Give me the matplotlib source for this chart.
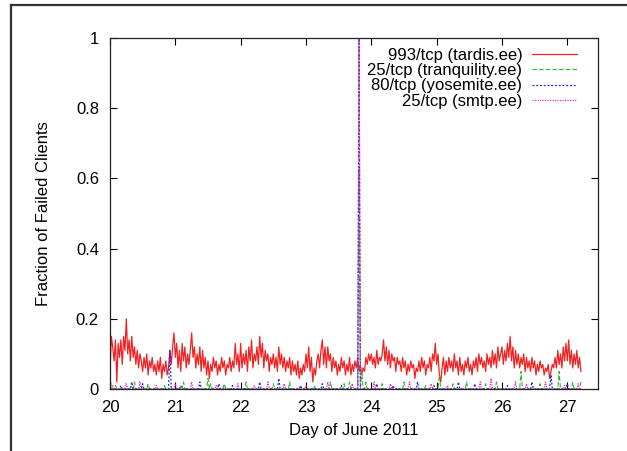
import numpy as np
import matplotlib
matplotlib.use("Agg")
import matplotlib.pyplot as plt
from matplotlib.lines import Line2D

plt.rcParams["font.family"] = ["Liberation Sans", "DejaVu Sans"]

# half-hourly samples starting 20 June 00:00
start_day = 20.0
samples_per_day = 48

# 993/tcp (tardis.ee)
tardis = [
    # 20 June
    0.05, 0.15, 0.12, 0.08, 0.14, 0.02, 0.13, 0.09, 0.14, 0.07, 0.15, 0.11,
    0.20, 0.10, 0.14, 0.08, 0.15, 0.09, 0.12, 0.07, 0.11, 0.06, 0.10, 0.08,
    0.05, 0.09, 0.06, 0.10, 0.04, 0.08, 0.06, 0.09, 0.05, 0.07, 0.04, 0.08,
    0.05, 0.09, 0.03, 0.07, 0.05, 0.08, 0.04, 0.06, 0.11, 0.07, 0.12, 0.16,
    # 21 June
    0.09, 0.13, 0.06, 0.11, 0.05, 0.13, 0.08, 0.12, 0.06, 0.10, 0.07, 0.11,
    0.16, 0.09, 0.12, 0.06, 0.10, 0.07, 0.12, 0.05, 0.11, 0.06, 0.09, 0.04,
    0.08, 0.03, 0.07, 0.05, 0.09, 0.06, 0.08, 0.04, 0.07, 0.05, 0.09, 0.06,
    0.08, 0.04, 0.07, 0.06, 0.09, 0.05, 0.08, 0.06, 0.13, 0.07, 0.10, 0.05,
    # 22 June
    0.13, 0.06, 0.10, 0.07, 0.11, 0.05, 0.12, 0.08, 0.14, 0.06, 0.10, 0.08,
    0.12, 0.07, 0.15, 0.09, 0.13, 0.06, 0.11, 0.08, 0.10, 0.05, 0.09, 0.07,
    0.10, 0.06, 0.09, 0.05, 0.12, 0.07, 0.10, 0.06, 0.09, 0.05, 0.08, 0.06,
    0.09, 0.04, 0.08, 0.05, 0.07, 0.04, 0.08, 0.03, 0.06, 0.04, 0.07, 0.05,
    # 23 June
    0.10, 0.06, 0.12, 0.05, 0.09, 0.02, 0.06, 0.04, 0.08, 0.10, 0.06, 0.11,
    0.14, 0.07, 0.12, 0.06, 0.12, 0.08, 0.10, 0.05, 0.09, 0.06, 0.08, 0.04,
    0.07, 0.05, 0.09, 0.06, 0.08, 0.04, 0.07, 0.05, 0.09, 0.04, 0.07, 0.05,
    0.08, 0.06, 0.09, 0.05, 0.07, 0.04, 0.06, 0.05, 0.09, 0.07, 0.10, 0.08,
    # 24 June
    0.10, 0.07, 0.09, 0.06, 0.11, 0.07, 0.09, 0.08, 0.10, 0.14, 0.08, 0.12,
    0.07, 0.11, 0.06, 0.10, 0.08, 0.09, 0.05, 0.09, 0.07, 0.08, 0.05, 0.09,
    0.06, 0.08, 0.04, 0.07, 0.05, 0.08, 0.06, 0.07, 0.03, 0.06, 0.05, 0.08,
    0.05, 0.09, 0.06, 0.08, 0.04, 0.07, 0.06, 0.09, 0.05, 0.10, 0.08, 0.13,
    # 25 June
    0.07, 0.10, 0.04, 0.02, 0.06, 0.09, 0.04, 0.08, 0.05, 0.09, 0.06, 0.08,
    0.05, 0.10, 0.06, 0.08, 0.04, 0.09, 0.05, 0.07, 0.04, 0.08, 0.06, 0.09,
    0.05, 0.07, 0.04, 0.08, 0.06, 0.09, 0.05, 0.10, 0.07, 0.09, 0.06, 0.08,
    0.05, 0.10, 0.07, 0.09, 0.06, 0.11, 0.07, 0.10, 0.06, 0.12, 0.08, 0.10,
    # 26 June
    0.12, 0.07, 0.11, 0.08, 0.13, 0.09, 0.15, 0.08, 0.12, 0.06, 0.11, 0.07,
    0.10, 0.06, 0.09, 0.07, 0.10, 0.05, 0.09, 0.06, 0.08, 0.05, 0.09, 0.06,
    0.08, 0.04, 0.07, 0.05, 0.08, 0.06, 0.07, 0.04, 0.06, 0.05, 0.07, 0.03,
    0.05, 0.07, 0.06, 0.09, 0.06, 0.11, 0.07, 0.10, 0.06, 0.12, 0.08, 0.13,
    # 27 June
    0.08, 0.14, 0.07, 0.11, 0.06, 0.10, 0.07, 0.11, 0.06, 0.09, 0.05,
]

# the other three hosts sit at zero except at these samples
tranquility_idx = [0, 4, 18, 28, 40, 54, 72, 74, 84, 100, 120, 132, 150, 162, 172, 176,
                   183, 185, 188, 200, 216, 232, 242, 252, 262, 276, 284, 302, 316, 330,
                   340, 346]
tranquility_vals = [0.04, 0.01, 0.02, 0.015, 0.01, 0.02, 0.03, 0.015, 0.015, 0.02, 0.015,
                    0.02, 0.01, 0.02, 0.015, 0.02, 0.63, 0.05, 0.02, 0.015, 0.02, 0.01,
                    0.04, 0.015, 0.02, 0.015, 0.02, 0.05, 0.015, 0.05, 0.02, 0.02]

yosemite_idx = [8, 16, 24, 44, 52, 66, 80, 90, 110, 124, 140, 156, 170, 183, 196, 208,
                226, 238, 256, 268, 292, 310, 324, 336]
yosemite_vals = [0.01, 0.02, 0.015, 0.11, 0.01, 0.02, 0.015, 0.01, 0.02, 0.03, 0.01,
                 0.015, 0.01, 1.0, 0.015, 0.01, 0.02, 0.01, 0.02, 0.015, 0.01, 0.02,
                 0.04, 0.015]

smtp_idx = [2, 12, 22, 34, 48, 60, 78, 94, 106, 116, 128, 144, 160, 178, 183, 194, 206,
            220, 236, 248, 272, 280, 298, 306, 320, 334, 344]
smtp_vals = [0.01, 0.015, 0.02, 0.01, 0.015, 0.02, 0.01, 0.015, 0.01, 0.02, 0.015, 0.01,
             0.02, 0.015, 1.0, 0.02, 0.015, 0.02, 0.015, 0.01, 0.02, 0.03, 0.02, 0.015,
             0.02, 0.01, 0.015]

labels = ["993/tcp (tardis.ee)", "25/tcp (tranquility.ee)",
          "80/tcp (yosemite.ee)", "25/tcp (smtp.ee)"]
x_ticks = [20, 21, 22, 23, 24, 25, 26, 27]
y_ticks = [0, 0.2, 0.4, 0.6, 0.8, 1]
y_tick_labels = ["0", "0.2", "0.4", "0.6", "0.8", "1"]


def sparse_series(idx, vals, n):
    s = np.zeros(n)
    s[idx] = vals
    return s


n = len(tardis)
t = start_day + np.arange(n) / samples_per_day

series = [
    np.array(tardis),
    sparse_series(tranquility_idx, tranquility_vals, n),
    sparse_series(yosemite_idx, yosemite_vals, n),
    sparse_series(smtp_idx, smtp_vals, n),
]
styles = [
    dict(color="#f02222", ls="-", lw=0.9),
    dict(color="#30b830", ls=(0, (4, 2)), lw=0.8),
    dict(color="#2020e0", ls=(0, (1.5, 1.5)), lw=0.9),
    dict(color="#e030c0", ls=(0, (1, 1)), lw=0.9),
]

fig = plt.figure(figsize=(6.27, 4.51), dpi=100)
ax = fig.add_axes([110 / 627, 1 - 389 / 451, 488 / 627, 351 / 451])

for y, lab, st in zip(series, labels, styles):
    ax.plot(t, y, label=lab, **st)

ax.set_xlim(20, 27.47)
ax.set_ylim(0, 1)
ax.set_xticks(x_ticks)
ax.set_yticks(y_ticks)
ax.set_yticklabels(y_tick_labels)
ax.tick_params(direction="in", length=5, width=0.8, top=True, right=True,
               labelsize=12, pad=8)
for sp in ax.spines.values():
    sp.set_linewidth(0.9)
    sp.set_color("#222222")

ax.set_xlabel("Day of June 2011", fontsize=12, labelpad=6)
ax.set_ylabel("Fraction of Failed Clients", fontsize=12, labelpad=18)

leg = ax.legend(loc="upper right", bbox_to_anchor=(0.956, 0.972), frameon=False,
                markerfirst=False, fontsize=12, handlelength=2.65,
                handletextpad=0.6, labelspacing=0.02, borderpad=0, borderaxespad=0)

# thin frame round the whole figure (cut off on the right and bottom)
fx, fy = 11 / 627, 1 - 5 / 451
for xs, ys in [([fx, fx], [0, fy]), ([fx, 1], [fy, fy])]:
    fig.add_artist(Line2D(xs, ys, transform=fig.transFigure,
                          lw=1.6, color="#333333"))

fig.savefig("out.png", dpi=100)
